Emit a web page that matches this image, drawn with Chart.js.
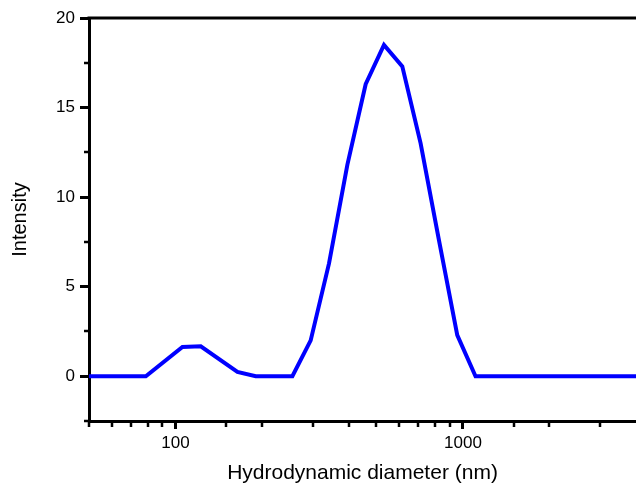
<!DOCTYPE html>
<html lang="en">
<head>
  <meta charset="UTF-8" />
  <title>Hydrodynamic diameter distribution</title>
  <script src="https://cdn.jsdelivr.net/npm/chart.js"></script>
  <style>
    html, body {
      margin: 0;
      padding: 0;
      background: #fff;
    }
    .chart-box {
      width: 636px;
      height: 486px;
    }
  </style>
</head>
<body>
  <div class="chart-box">
    <canvas id="dlsChart" width="636" height="486"></canvas>
  </div>

  <script>
    // size classes (nm) and intensity (%)
    const diameters = [43.82, 78.82, 105.7, 122.4, 164.2, 190.1, 255.0, 295.3, 342.0, 396.1, 458.7, 531.2, 615.1, 712.4, 825.0, 955.4, 1106, 5560];
    const intensity = [0, 0, 1.63, 1.67, 0.24, 0, 0, 2.0, 6.3, 11.8, 16.3, 18.5, 17.3, 13.0, 7.6, 2.3, 0, 0];
    const xLabelled = [100, 1000];
    const yLabelled = [0, 5, 10, 15, 20];

    const fontFamily = "Arial, 'Liberation Sans', Helvetica, sans-serif";

    // short minor ticks + top frame line
    const frameMarks = {
      id: 'frameMarks',
      afterDraw(chart) {
        const { ctx, chartArea, scales } = chart;
        ctx.save();
        ctx.strokeStyle = '#000';
        ctx.lineWidth = 3;
        ctx.beginPath();
        ctx.moveTo(chartArea.left - 1.5, chartArea.top);
        ctx.lineTo(chartArea.right, chartArea.top);
        ctx.stroke();

        ctx.lineWidth = 2.5;
        ctx.beginPath();
        scales.y.ticks.forEach(t => {
          if (yLabelled.includes(t.value)) return;
          const py = Math.round(scales.y.getPixelForValue(t.value));
          ctx.moveTo(chartArea.left, py);
          ctx.lineTo(chartArea.left - 5, py);
        });
        scales.x.ticks.forEach(t => {
          if (xLabelled.includes(t.value)) return;
          const px = Math.round(scales.x.getPixelForValue(t.value));
          if (px > 635) return;
          ctx.moveTo(px, chartArea.bottom);
          ctx.lineTo(px, chartArea.bottom + 6);
        });
        ctx.stroke();
        ctx.restore();
      }
    };

    const points = diameters.map((d, i) => ({ x: d, y: intensity[i] }));

    new Chart(document.getElementById('dlsChart'), {
      type: 'line',
      data: {
        datasets: [{
          data: points,
          borderColor: '#0000FF',
          borderWidth: 4,
          pointRadius: 0,
          tension: 0,
          fill: false
        }]
      },
      options: {
        responsive: false,
        animation: false,
        layout: { padding: { top: 18, right: 0, left: 0, bottom: 0 } },
        plugins: {
          legend: { display: false },
          tooltip: { enabled: false }
        },
        scales: {
          x: {
            type: 'logarithmic',
            min: 50,
            max: 4000,
            afterFit: scale => {
              scale.height = 65;
              scale.paddingRight = 0;
              scale.paddingLeft = 0;
            },
            border: { display: true, color: '#000', width: 3 },
            grid: {
              drawOnChartArea: false,
              drawTicks: true,
              tickLength: 8,
              tickWidth: 3,
              tickColor: c => xLabelled.includes(c.tick && c.tick.value) ? '#000' : 'rgba(0,0,0,0)'
            },
            ticks: {
              autoSkip: false,
              maxRotation: 0,
              padding: 4,
              color: '#000',
              font: { family: fontFamily, size: 17 },
              callback: v => xLabelled.includes(v) ? String(v) : ''
            },
            title: {
              display: true,
              text: 'Hydrodynamic diameter (nm)',
              color: '#000',
              font: { family: fontFamily, size: 21 },
              padding: { top: 0, bottom: 0 }
            }
          },
          y: {
            min: -2.5,
            max: 20,
            afterFit: scale => { scale.width = 89; },
            border: { display: true, color: '#000', width: 3 },
            grid: {
              drawOnChartArea: false,
              drawTicks: true,
              tickLength: 9,
              tickWidth: 3,
              tickColor: c => yLabelled.includes(c.tick && c.tick.value) ? '#000' : 'rgba(0,0,0,0)'
            },
            ticks: {
              stepSize: 2.5,
              autoSkip: false,
              padding: 5,
              color: '#000',
              font: { family: fontFamily, size: 17 },
              callback: v => yLabelled.includes(v) ? String(v) : ''
            },
            title: {
              display: true,
              text: 'Intensity',
              color: '#000',
              font: { family: fontFamily, size: 20 },
              padding: { top: 8, bottom: 0 }
            }
          }
        }
      },
      plugins: [frameMarks]
    });
  </script>
</body>
</html>
